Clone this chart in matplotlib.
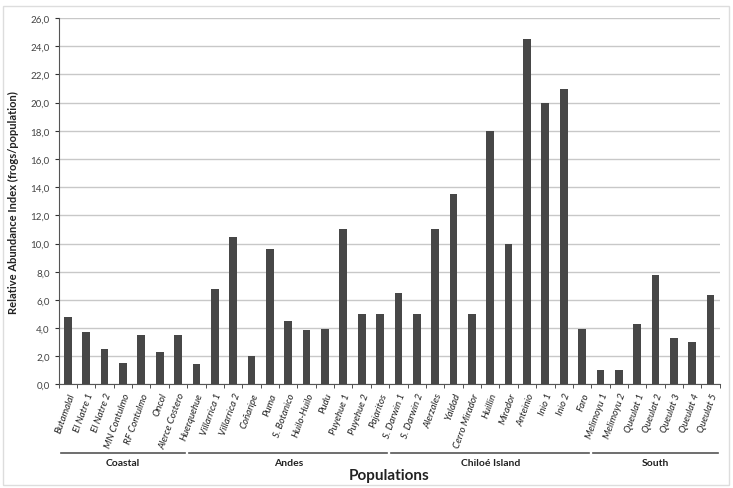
import matplotlib.pyplot as plt
from matplotlib.patches import Rectangle
from matplotlib.ticker import FuncFormatter, MultipleLocator

plt.rcParams['font.family'] = ['Lato', 'DejaVu Sans']

# --- data ---
populations = [
    'Butamalal', 'El Natre 1', 'El Natre 2', 'MN Contulmo', 'RF Contulmo', 'Oncol', 'Alerce Costero',
    'Huerquehue', 'Villarrica 1', 'Villarrica 2', 'Coñaripe', 'Puma', 'S. Botanico', 'Huilo-Huilo',
    'Pudu', 'Puyehue 1', 'Puyehue 2', 'Pajaritos',
    'S. Darwin 1', 'S. Darwin 2', 'Alerzales', 'Yaldad', 'Cerro Mirador', 'Huillin', 'Mirador',
    'Anteinio', 'Inio 1', 'Inio 2', 'Faro',
    'Melimoyu 1', 'Melimoyu 2', 'Queulat 1', 'Queulat 2', 'Queulat 3', 'Queulat 4', 'Queulat 5',
]
abundance = [
    4.8, 3.75, 2.5, 1.5, 3.5, 2.3, 3.5,
    1.45, 6.8, 10.5, 2.0, 9.6, 4.5, 3.9, 3.95, 11.0, 5.0, 5.0,
    6.5, 5.0, 11.0, 13.5, 5.0, 18.0, 10.0, 24.5, 20.0, 21.0, 3.95,
    1.0, 1.0, 4.3, 7.75, 3.3, 3.0, 6.35,
]
groups = ['Coastal', 'Andes', 'Chiloé Island', 'South']
group_sizes = [7, 11, 11, 7]

# --- plot ---
fig = plt.figure(figsize=(7.33, 4.89), dpi=100)
ax = fig.add_axes([0.080, 0.2117, 0.902, 0.7493])

x = range(len(populations))
ax.bar(x, abundance, width=0.42, color='#474747', zorder=3)

ax.set_xlim(-0.5, len(populations) - 0.5)
ax.set_ylim(0, 26)
ax.yaxis.set_major_locator(MultipleLocator(2))
ax.yaxis.set_major_formatter(FuncFormatter(lambda v, p: f'{v:.1f}'.replace('.', ',')))
ax.grid(axis='y', color='#c8c8c8', linewidth=1, zorder=0)

# category labels at centres, tick marks at boundaries
ax.set_xticks(list(x))
ax.set_xticklabels(populations, rotation=70, ha='right', va='top',
                   rotation_mode='anchor', fontsize=7, style='italic', color='#222222')
ax.tick_params(axis='x', length=0, pad=5)
ax.set_xticks([i - 0.5 for i in range(len(populations) + 1)], minor=True)
ax.tick_params(axis='x', which='minor', length=3, color='#333333')
ax.tick_params(axis='y', length=3, labelsize=7, colors='#333333', labelcolor='#444444')

for side in ['top', 'right']:
    ax.spines[side].set_visible(False)
ax.spines['left'].set_color('#555555')
ax.spines['bottom'].set_color('#555555')

ax.set_ylabel('Relative Abundance Index (frogs/population)', fontsize=8, fontweight='bold',
              color='#222222', labelpad=8)

# group brackets under the labels
trans = ax.get_xaxis_transform()
start = 0
for name, n in zip(groups, group_sizes):
    left = start - 0.5 + 0.12
    right = start + n - 0.5 - 0.12
    ax.plot([left, right], [-0.187, -0.187], transform=trans, color='#555555',
            linewidth=1.2, clip_on=False)
    ax.text((left + right) / 2, -0.202, name, transform=trans, ha='center', va='top',
            fontsize=7.5, fontweight='bold', color='#222222')
    start += n

ax.text(0.5, -0.228, 'Populations', transform=ax.transAxes, ha='center', va='top',
        fontsize=11, fontweight='bold', color='#222222')

# faint chart frame like the original
fig.patches.append(Rectangle((0.004, 0.006), 0.99, 0.98, transform=fig.transFigure,
                             fill=False, edgecolor='#dddddd', linewidth=1))

fig.savefig('out.png', dpi=100)
